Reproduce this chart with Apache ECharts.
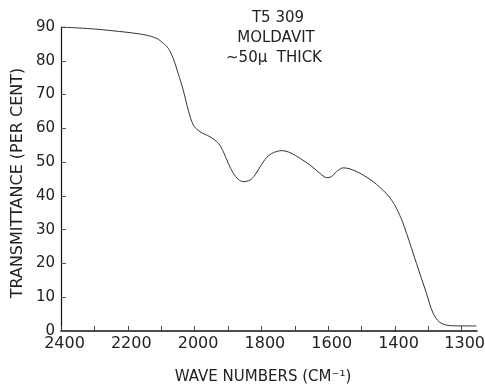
<!DOCTYPE html>
<html>
<head>
<meta charset="utf-8">
<script src="https://cdn.jsdelivr.net/npm/echarts@6/dist/echarts.min.js"></script>
<style>html,body{margin:0;padding:0;background:#fff}#c{width:485px;height:387px}</style>
</head>
<body>
<div id="c"></div>
<script>
// Main scale region (2400 -> 1400 cm^-1)
const waveHigh = [2400, 2300, 2200, 2145, 2113, 2094, 2079, 2064, 2049, 2034, 2019, 2004, 1984, 1954, 1929, 1914, 1899, 1884, 1869, 1854, 1834, 1819, 1804, 1784, 1764, 1739, 1714, 1684, 1654, 1625, 1605, 1590, 1575, 1555, 1535, 1505, 1465, 1425, 1410, 1400];
const transHigh = [90, 89.4, 88.4, 87.6, 86.6, 85.2, 83.7, 80.7, 76.2, 71.3, 65.4, 61.0, 59.0, 57.5, 55.6, 53.1, 49.6, 46.7, 44.9, 44.2, 44.7, 46.2, 48.6, 51.4, 52.8, 53.4, 52.8, 51.1, 49.1, 46.7, 45.4, 45.7, 47.2, 48.3, 48.0, 46.7, 44.2, 40.6, 38.7, 37.2];
// Expanded scale region (1400 -> ~1276 cm^-1)
const waveLow = [1400, 1390, 1382.5, 1367.5, 1352.5, 1342.5, 1332.5, 1317.5, 1292.5, 1277];
const transLow = [37.2, 33.0, 28.9, 20.0, 11.2, 5.3, 2.6, 1.6, 1.5, 1.5];
const yTicks = [0, 10, 20, 30, 40, 50, 60, 70, 80, 90];
const xLabelsHigh = [2400, 2200, 2000, 1800, 1600, 1400];
const xLabelsLow = [1300];
const xTicksLow = [1350, 1300];
const annotation = ['T5 309', 'MOLDAVIT', '~50\u03bc  THICK'];
const xTitle = 'WAVE NUMBERS (CM\u207b\u00b9)';
const yTitle = 'TRANSMITTANCE (PER CENT)';

const FONT = 'DejaVu Sans';
const INK = '#222';
const chart = echarts.init(document.getElementById('c'), null, {renderer: 'canvas'});
const hi = waveHigh.map((w, i) => [w, transHigh[i]]);
const lo = waveLow.map((w, i) => [w, transLow[i]]);
const lbl = {color: INK, fontFamily: FONT, fontSize: 16, margin: 5, padding: [0, 0, 0, 7], formatter: v => String(v)};

chart.setOption({
  animation: false,
  backgroundColor: '#fff',
  grid: [
    {left: 61, right: 90, top: 27, bottom: 56, outerBoundsMode: 'none', containLabel: false},
    {left: 395, right: 8, top: 27, bottom: 56, outerBoundsMode: 'none', containLabel: false}
  ],
  xAxis: [
    {
      type: 'value', gridIndex: 0, min: 1400, max: 2400, inverse: true, interval: 100,
      axisLine: {lineStyle: {color: '#111', width: 1.5}},
      axisTick: {inside: true, length: 5, lineStyle: {color: '#444'}},
      axisLabel: Object.assign({customValues: xLabelsHigh}, lbl),
      splitLine: {show: false}
    },
    {
      type: 'value', gridIndex: 1, min: 1276, max: 1400, inverse: true,
      axisLine: {lineStyle: {color: '#111', width: 1.5}},
      axisTick: {inside: true, length: 5, customValues: xTicksLow, lineStyle: {color: '#444'}},
      axisLabel: Object.assign({customValues: xLabelsLow}, lbl),
      splitLine: {show: false}
    }
  ],
  yAxis: [
    {
      type: 'value', gridIndex: 0, min: 0, max: 90, interval: 10,
      axisLine: {show: true, lineStyle: {color: '#111', width: 1.2}},
      axisTick: {inside: true, length: 5, lineStyle: {color: '#555'}},
      axisLabel: {customValues: yTicks, color: INK, fontFamily: FONT, fontSize: 15, margin: 6},
      splitLine: {show: false}
    },
    {
      type: 'value', gridIndex: 1, min: 0, max: 90, interval: 10,
      axisLine: {show: false}, axisTick: {show: false}, axisLabel: {show: false},
      splitLine: {show: false}
    }
  ],
  series: [
    {type: 'line', xAxisIndex: 0, yAxisIndex: 0, data: hi, smooth: 0.3, showSymbol: false,
     lineStyle: {color: '#333', width: 1}},
    {type: 'line', xAxisIndex: 1, yAxisIndex: 1, data: lo, smooth: 0.3, showSymbol: false,
     lineStyle: {color: '#333', width: 1}}
  ],
  graphic: [
    {type: 'text', x: 278, y: 18, style: {text: annotation[0], fill: INK, font: '15px "DejaVu Sans"', align: 'center', verticalAlign: 'middle'}},
    {type: 'text', x: 276, y: 38, style: {text: annotation[1], fill: INK, font: '15px "DejaVu Sans"', align: 'center', verticalAlign: 'middle'}},
    {type: 'text', x: 274, y: 58, style: {text: annotation[2], fill: INK, font: '15px "DejaVu Sans"', align: 'center', verticalAlign: 'middle'}},
    {type: 'text', x: 263, y: 377, style: {text: xTitle, fill: INK, font: '15px "DejaVu Sans"', align: 'center', verticalAlign: 'middle'}},
    {type: 'text', x: 18, y: 183, rotation: Math.PI / 2, style: {text: yTitle, fill: INK, font: '16px "DejaVu Sans"', align: 'center', verticalAlign: 'middle'}}
  ]
});
</script>
</body>
</html>
